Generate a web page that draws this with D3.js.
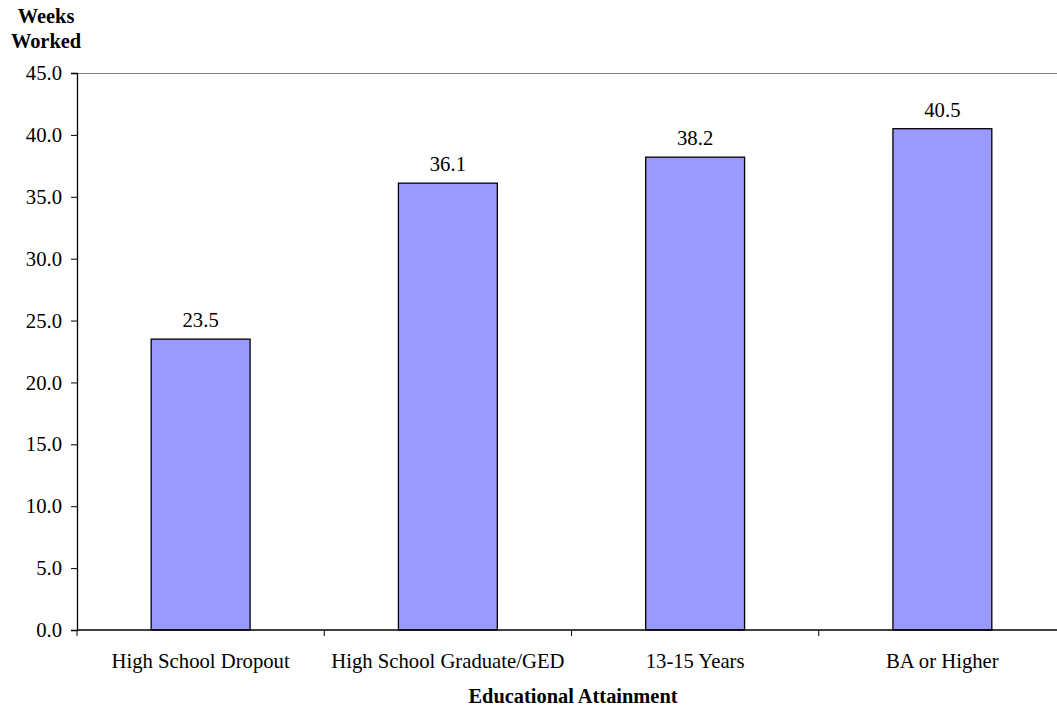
<!DOCTYPE html>
<html>
<head>
<meta charset="utf-8">
<script src="https://cdn.jsdelivr.net/npm/d3@7"></script>
<style>
  body { margin: 0; background: #fff; }
  svg text { font-family: "Liberation Serif", "DejaVu Serif", serif; fill: #000; }
</style>
</head>
<body>
<svg id="chart" width="1057" height="708"></svg>
<script>
const categories = ['High School Dropout', 'High School Graduate/GED', '13-15 Years', 'BA or Higher'];
const weeksWorked = [23.5, 36.1, 38.2, 40.5];
const yTicks = [0, 5, 10, 15, 20, 25, 30, 35, 40, 45];

const svg = d3.select('#chart');
const plotLeft = 77, plotRight = 1066, plotTop = 73, plotBottom = 630;
const serif = '"Liberation Serif", "DejaVu Serif", serif';
const fontSize = '20.7px';

const x = d3.scaleBand()
    .domain(categories)
    .range([plotLeft, plotRight])
    .paddingInner(0)
    .paddingOuter(0);

const y = d3.scaleLinear()
    .domain([0, 45])
    .range([plotBottom, plotTop]);

const barW = x.bandwidth() * 0.4;

// top border of plot area
svg.append('line')
    .attr('x1', plotLeft).attr('x2', plotRight)
    .attr('y1', plotTop + 0.5).attr('y2', plotTop + 0.5)
    .attr('stroke', '#808080')
    .attr('stroke-width', 1.2);

// bars
svg.selectAll('rect.bar')
    .data(weeksWorked)
    .enter()
    .append('rect')
    .attr('class', 'bar')
    .attr('x', (d, i) => x(categories[i]) + (x.bandwidth() - barW) / 2)
    .attr('y', d => y(d))
    .attr('width', barW)
    .attr('height', d => plotBottom - y(d))
    .attr('fill', '#9999ff')
    .attr('stroke', '#000')
    .attr('stroke-width', 1.3);

// value labels
svg.selectAll('text.val')
    .data(weeksWorked)
    .enter()
    .append('text')
    .attr('class', 'val')
    .attr('x', (d, i) => x(categories[i]) + x.bandwidth() / 2)
    .attr('y', d => y(d) - 12)
    .attr('text-anchor', 'middle')
    .style('font-family', serif)
    .style('font-size', fontSize)
    .text(d => d.toFixed(1));

// y axis
const yAxis = svg.append('g')
    .attr('transform', `translate(${plotLeft},0)`)
    .call(d3.axisLeft(y).tickValues(yTicks).tickFormat(d3.format('.1f')).tickSize(6).tickPadding(9));
yAxis.attr('font-family', null).attr('font-size', null);
yAxis.select('.domain').attr('stroke', '#000').attr('stroke-width', 1.3);
yAxis.selectAll('.tick line').attr('stroke', '#000');
yAxis.selectAll('text')
    .style('font-size', fontSize)
    .style('font-family', serif)
    .attr('fill', '#000');

// x axis: ticks at band boundaries
const xAxisG = svg.append('g');
xAxisG.append('line')
    .attr('x1', plotLeft).attr('x2', plotRight)
    .attr('y1', plotBottom).attr('y2', plotBottom)
    .attr('stroke', '#000')
    .attr('stroke-width', 1.3);
xAxisG.selectAll('line.tk')
    .data(categories)
    .enter()
    .append('line')
    .attr('class', 'tk')
    .attr('x1', d => x(d)).attr('x2', d => x(d))
    .attr('y1', plotBottom).attr('y2', plotBottom + 6)
    .attr('stroke', '#000');
xAxisG.selectAll('text')
    .data(categories)
    .enter()
    .append('text')
    .attr('x', d => x(d) + x.bandwidth() / 2)
    .attr('y', plotBottom + 38)
    .attr('text-anchor', 'middle')
    .style('font-family', serif)
    .style('font-size', fontSize)
    .text(d => d);

// axis titles
svg.append('text')
    .attr('x', 573)
    .attr('y', 703)
    .attr('text-anchor', 'middle')
    .style('font-family', serif)
    .style('font-size', '20.4px')
    .style('font-weight', 'bold')
    .text('Educational Attainment');

const yTitle = svg.append('text')
    .attr('text-anchor', 'middle')
    .style('font-family', serif)
    .style('font-size', '20.4px')
    .style('font-weight', 'bold');
yTitle.append('tspan').attr('x', 46).attr('y', 23).text('Weeks');
yTitle.append('tspan').attr('x', 46).attr('y', 48).text('Worked');
</script>
</body>
</html>
